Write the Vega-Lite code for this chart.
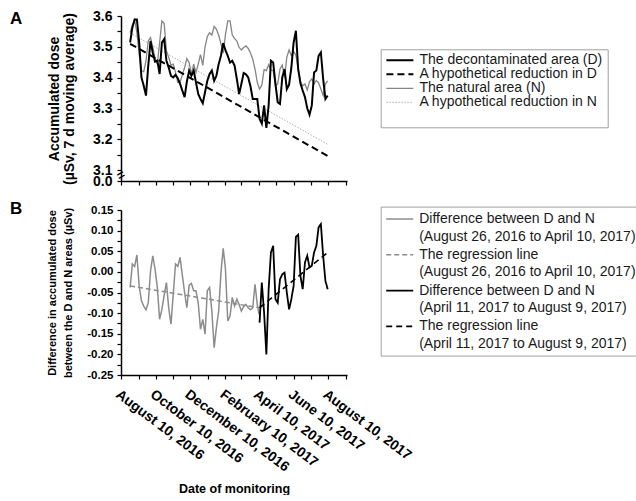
{
  "$schema": "https://vega.github.io/schema/vega-lite/v6.json",
  "padding": {"left": 10, "top": 9, "right": 0, "bottom": 0},
  "config": {
    "font": "Liberation Sans",
    "view": {"stroke": null},
    "axis": {"grid": false, "domainColor": "#000000", "domainWidth": 1.5, "tickColor": "#000000", "tickWidth": 1.2, "tickSize": 4, "labelColor": "#000000", "titleColor": "#000000", "labelFont": "Liberation Sans", "titleFont": "Liberation Sans", "labelFontWeight": "bold", "titleFontWeight": "bold", "labelFlush": false, "labelOverlap": false},
    "legend": {"strokeColor": "#a0a0a0", "fillColor": "#ffffff", "labelFontSize": 14, "labelFont": "Liberation Sans", "labelColor": "#1a1a1a", "labelLimit": 400, "symbolType": "stroke", "symbolSize": 729, "labelOffset": 5},
    "style": {"guide-label": {"lineHeight": 17.7}}
  },
  "datasets": {
    "a": [
      {"date": "2016-08-26", "D": 3.514, "N": 3.546, "Dhyp": 3.51, "Nhyp": 3.545},
      {"date": "2016-08-30", "D": 3.562, "N": 3.571},
      {"date": "2016-09-03", "D": 3.589, "N": 3.587},
      {"date": "2016-09-07", "D": 3.589, "N": 3.546},
      {"date": "2016-09-11", "D": 3.514, "N": 3.476},
      {"date": "2016-09-15", "D": 3.401, "N": 3.423},
      {"date": "2016-09-19", "D": 3.374, "N": 3.419},
      {"date": "2016-09-23", "D": 3.342, "N": 3.455},
      {"date": "2016-09-27", "D": 3.439, "N": 3.519},
      {"date": "2016-10-01", "D": 3.519, "N": 3.530},
      {"date": "2016-10-05", "D": 3.480, "N": 3.498},
      {"date": "2016-10-09", "D": 3.452, "N": 3.462},
      {"date": "2016-10-13", "D": 3.455, "N": 3.444},
      {"date": "2016-10-17", "D": 3.412, "N": 3.514},
      {"date": "2016-10-21", "D": 3.514, "N": 3.584},
      {"date": "2016-10-25", "D": 3.525, "N": 3.576},
      {"date": "2016-10-29", "D": 3.455, "N": 3.487},
      {"date": "2016-11-02", "D": 3.433, "N": 3.466},
      {"date": "2016-11-06", "D": 3.406, "N": 3.441},
      {"date": "2016-11-10", "D": 3.401, "N": 3.444},
      {"date": "2016-11-14", "D": 3.409, "N": 3.417},
      {"date": "2016-11-18", "D": 3.398, "N": 3.385},
      {"date": "2016-11-22", "D": 3.380, "N": 3.385},
      {"date": "2016-11-26", "D": 3.358, "N": 3.409},
      {"date": "2016-11-30", "D": 3.337, "N": 3.433},
      {"date": "2016-12-04", "D": 3.387, "N": 3.462},
      {"date": "2016-12-08", "D": 3.423, "N": 3.449},
      {"date": "2016-12-12", "D": 3.406, "N": 3.412},
      {"date": "2016-12-16", "D": 3.423, "N": 3.444},
      {"date": "2016-12-20", "D": 3.385, "N": 3.417},
      {"date": "2016-12-24", "D": 3.347, "N": 3.444},
      {"date": "2016-12-28", "D": 3.331, "N": 3.475},
      {"date": "2017-01-01", "D": 3.317, "N": 3.440},
      {"date": "2017-01-05", "D": 3.353, "N": 3.500},
      {"date": "2017-01-09", "D": 3.390, "N": 3.533},
      {"date": "2017-01-13", "D": 3.412, "N": 3.546},
      {"date": "2017-01-17", "D": 3.423, "N": 3.538},
      {"date": "2017-01-21", "D": 3.390, "N": 3.566},
      {"date": "2017-01-25", "D": 3.406, "N": 3.557},
      {"date": "2017-01-29", "D": 3.444, "N": 3.538},
      {"date": "2017-02-02", "D": 3.471, "N": 3.510},
      {"date": "2017-02-06", "D": 3.512, "N": 3.480},
      {"date": "2017-02-10", "D": 3.489, "N": 3.540},
      {"date": "2017-02-14", "D": 3.471, "N": 3.584},
      {"date": "2017-02-18", "D": 3.449, "N": 3.584},
      {"date": "2017-02-22", "D": 3.455, "N": 3.538},
      {"date": "2017-02-26", "D": 3.439, "N": 3.527},
      {"date": "2017-03-02", "D": 3.396, "N": 3.519},
      {"date": "2017-03-06", "D": 3.347, "N": 3.498},
      {"date": "2017-03-10", "D": 3.380, "N": 3.490},
      {"date": "2017-03-14", "D": 3.415, "N": 3.498},
      {"date": "2017-03-18", "D": 3.411, "N": 3.503},
      {"date": "2017-03-22", "D": 3.401, "N": 3.495},
      {"date": "2017-03-26", "D": 3.372, "N": 3.480},
      {"date": "2017-03-30", "D": 3.331, "N": 3.460},
      {"date": "2017-04-03", "D": 3.331, "N": 3.428},
      {"date": "2017-04-07", "D": 3.331, "N": 3.385},
      {"date": "2017-04-11", "D": 3.267, "N": 3.363},
      {"date": "2017-04-15", "D": 3.251, "N": 3.376},
      {"date": "2017-04-19", "D": 3.310, "N": 3.426},
      {"date": "2017-04-23", "D": 3.237, "N": 3.423},
      {"date": "2017-04-27", "D": 3.310, "N": 3.442},
      {"date": "2017-05-01", "D": 3.455, "N": 3.425},
      {"date": "2017-05-05", "D": 3.449, "N": 3.423},
      {"date": "2017-05-09", "D": 3.380, "N": 3.374},
      {"date": "2017-05-13", "D": 3.320, "N": 3.380},
      {"date": "2017-05-17", "D": 3.315, "N": 3.428},
      {"date": "2017-05-21", "D": 3.401, "N": 3.441},
      {"date": "2017-05-25", "D": 3.428, "N": 3.401},
      {"date": "2017-05-29", "D": 3.363, "N": 3.466},
      {"date": "2017-06-02", "D": 3.377, "N": 3.490},
      {"date": "2017-06-06", "D": 3.433, "N": 3.471},
      {"date": "2017-06-10", "D": 3.514, "N": 3.485},
      {"date": "2017-06-14", "D": 3.552, "N": 3.473},
      {"date": "2017-06-18", "D": 3.428, "N": 3.428},
      {"date": "2017-06-22", "D": 3.382, "N": 3.387},
      {"date": "2017-06-26", "D": 3.358, "N": 3.374},
      {"date": "2017-06-30", "D": 3.337, "N": 3.380},
      {"date": "2017-07-04", "D": 3.301, "N": 3.360},
      {"date": "2017-07-08", "D": 3.280, "N": 3.387},
      {"date": "2017-07-12", "D": 3.310, "N": 3.396},
      {"date": "2017-07-16", "D": 3.417, "N": 3.380},
      {"date": "2017-07-20", "D": 3.423, "N": 3.391},
      {"date": "2017-07-24", "D": 3.471, "N": 3.383},
      {"date": "2017-07-28", "D": 3.482, "N": 3.363},
      {"date": "2017-08-01", "D": 3.396, "N": 3.342},
      {"date": "2017-08-05", "D": 3.331, "N": 3.380},
      {"date": "2017-08-09", "D": 3.342, "N": 3.390, "Dhyp": 3.146, "Nhyp": 3.184}
    ],
    "b": [
      {"date": "2016-08-26", "G": -0.038, "Greg": -0.034},
      {"date": "2016-08-30", "G": 0.019},
      {"date": "2016-09-03", "G": 0.013},
      {"date": "2016-09-07", "G": 0.041},
      {"date": "2016-09-11", "G": -0.034},
      {"date": "2016-09-15", "G": -0.070},
      {"date": "2016-09-19", "G": -0.083},
      {"date": "2016-09-23", "G": -0.092},
      {"date": "2016-09-27", "G": -0.075},
      {"date": "2016-10-01", "G": 0.002},
      {"date": "2016-10-05", "G": 0.039},
      {"date": "2016-10-09", "G": 0.006},
      {"date": "2016-10-13", "G": -0.038},
      {"date": "2016-10-17", "G": -0.115},
      {"date": "2016-10-21", "G": -0.091},
      {"date": "2016-10-25", "G": -0.057},
      {"date": "2016-10-29", "G": -0.026},
      {"date": "2016-11-02", "G": -0.087},
      {"date": "2016-11-06", "G": -0.127},
      {"date": "2016-11-10", "G": -0.054},
      {"date": "2016-11-14", "G": 0.019},
      {"date": "2016-11-18", "G": 0.013},
      {"date": "2016-11-22", "G": 0.035},
      {"date": "2016-11-26", "G": -0.008},
      {"date": "2016-11-30", "G": -0.050},
      {"date": "2016-12-04", "G": -0.087},
      {"date": "2016-12-08", "G": -0.032},
      {"date": "2016-12-12", "G": -0.028},
      {"date": "2016-12-16", "G": -0.046},
      {"date": "2016-12-20", "G": -0.046},
      {"date": "2016-12-24", "G": -0.075},
      {"date": "2016-12-28", "G": -0.139},
      {"date": "2017-01-01", "G": -0.115},
      {"date": "2017-01-05", "G": -0.151},
      {"date": "2017-01-09", "G": -0.046},
      {"date": "2017-01-13", "G": -0.038},
      {"date": "2017-01-17", "G": -0.095},
      {"date": "2017-01-21", "G": -0.184},
      {"date": "2017-01-25", "G": -0.135},
      {"date": "2017-01-29", "G": -0.095},
      {"date": "2017-02-02", "G": -0.002},
      {"date": "2017-02-06", "G": 0.057},
      {"date": "2017-02-10", "G": 0.006},
      {"date": "2017-02-14", "G": -0.119},
      {"date": "2017-02-18", "G": -0.107},
      {"date": "2017-02-22", "G": -0.062},
      {"date": "2017-02-26", "G": -0.083},
      {"date": "2017-03-02", "G": -0.066},
      {"date": "2017-03-06", "G": -0.079},
      {"date": "2017-03-10", "G": -0.095},
      {"date": "2017-03-14", "G": -0.084},
      {"date": "2017-03-18", "G": -0.079},
      {"date": "2017-03-22", "G": -0.087},
      {"date": "2017-03-26", "G": -0.092},
      {"date": "2017-03-30", "G": -0.087},
      {"date": "2017-04-03", "G": -0.030},
      {"date": "2017-04-07", "G": -0.079},
      {"date": "2017-04-10", "G": -0.103, "Greg": -0.087},
      {"date": "2017-04-11", "K": -0.123, "Kreg": -0.087},
      {"date": "2017-04-15", "K": -0.026},
      {"date": "2017-04-19", "K": -0.099},
      {"date": "2017-04-23", "K": -0.200},
      {"date": "2017-04-27", "K": -0.042},
      {"date": "2017-05-01", "K": 0.047},
      {"date": "2017-05-05", "K": 0.063},
      {"date": "2017-05-09", "K": -0.066},
      {"date": "2017-05-13", "K": -0.075},
      {"date": "2017-05-17", "K": -0.018},
      {"date": "2017-05-21", "K": -0.006},
      {"date": "2017-05-25", "K": -0.002},
      {"date": "2017-05-29", "K": -0.050},
      {"date": "2017-06-02", "K": -0.091},
      {"date": "2017-06-06", "K": -0.066},
      {"date": "2017-06-10", "K": -0.034},
      {"date": "2017-06-14", "K": 0.085},
      {"date": "2017-06-18", "K": 0.090},
      {"date": "2017-06-22", "K": -0.010},
      {"date": "2017-06-26", "K": -0.042},
      {"date": "2017-06-30", "K": 0.023},
      {"date": "2017-07-04", "K": 0.039},
      {"date": "2017-07-08", "K": 0.011},
      {"date": "2017-07-12", "K": 0.015},
      {"date": "2017-07-16", "K": 0.047},
      {"date": "2017-07-20", "K": 0.063},
      {"date": "2017-07-24", "K": 0.108},
      {"date": "2017-07-28", "K": 0.116},
      {"date": "2017-08-01", "K": 0.039},
      {"date": "2017-08-05", "K": -0.022},
      {"date": "2017-08-09", "K": -0.042, "Kreg": 0.047}
    ]
  },
  "vconcat": [
    {
      "width": 226,
      "height": 165,
      "title": {"text": "A", "anchor": "start", "frame": "group", "dx": -111, "dy": 19, "offset": 0, "fontSize": 17, "fontWeight": "bold", "font": "Liberation Sans", "color": "#000000"},
      "encoding": {
        "x": {
          "field": "date", "type": "temporal",
          "scale": {"type": "utc", "domain": [{"year": 2016, "month": 8, "date": 10, "utc": true}, {"year": 2017, "month": 9, "date": 12, "utc": true}]},
          "axis": {
            "values": [
              {"year": 2016, "month": 8, "date": 10, "utc": true}, {"year": 2016, "month": 9, "date": 10, "utc": true},
              {"year": 2016, "month": 10, "date": 10, "utc": true}, {"year": 2016, "month": 11, "date": 10, "utc": true},
              {"year": 2016, "month": 12, "date": 10, "utc": true}, {"year": 2017, "month": 1, "date": 10, "utc": true},
              {"year": 2017, "month": 2, "date": 10, "utc": true}, {"year": 2017, "month": 3, "date": 10, "utc": true},
              {"year": 2017, "month": 4, "date": 10, "utc": true}, {"year": 2017, "month": 5, "date": 10, "utc": true},
              {"year": 2017, "month": 6, "date": 10, "utc": true}, {"year": 2017, "month": 7, "date": 10, "utc": true},
              {"year": 2017, "month": 8, "date": 10, "utc": true}, {"year": 2017, "month": 9, "date": 10, "utc": true}
            ],
            "labels": false, "title": null
          }
        },
        "y": {
          "field": "value", "type": "quantitative",
          "scale": {"domain": [3.065, 3.6], "nice": false, "zero": false},
          "axis": {
            "values": [3.065, 3.1, 3.15, 3.2, 3.25, 3.3, 3.35, 3.4, 3.45, 3.5, 3.55, 3.6],
            "labelExpr": "datum.value < 3.08 ? '0.0' : (abs(datum.value * 10 - round(datum.value * 10)) < 0.01 ? format(datum.value, '.1f') : '')",
            "labelOverlap": false,
            "labelFontSize": 14, "labelPadding": 5,
            "title": ["Accumulated dose", "(µSv, 7 d moving average)"],
            "titleFontSize": 14, "titleLineHeight": 15, "titlePadding": 16
          }
        }
      },
      "layer": [
        {
          "data": {"name": "a"},
          "transform": [{"fold": ["N", "Nhyp", "Dhyp", "D"], "as": ["key", "value"]}],
          "mark": {"type": "line", "invalid": "filter"},
          "encoding": {
            "color": {
              "field": "key", "type": "nominal",
              "scale": {"domain": ["D", "Dhyp", "N", "Nhyp"], "range": ["#000000", "#000000", "#858585", "#9a9a9a"]},
              "legend": {"orient": "none", "legendX": 259.7, "legendY": 33.3, "padding": 4.7, "clipHeight": 12.6, "rowPadding": -1.4, "title": " ", "titleOrient": "bottom", "titleFontSize": 11, "titlePadding": 2.1, "labelExpr": "datum.value == 'D' ? 'The decontaminated area (D)' : datum.value == 'Dhyp' ? 'A hypothetical reduction in D' : datum.value == 'N' ? 'The natural area (N)' : 'A hypothetical reduction in N'"}
            },
            "strokeDash": {
              "field": "key", "type": "nominal",
              "scale": {"domain": ["D", "Dhyp", "N", "Nhyp"], "range": [[1, 0], [7, 4], [1, 0], [1.5, 1.5]]},
              "legend": {"orient": "none", "legendX": 259.7, "legendY": 33.3, "padding": 4.7, "clipHeight": 12.6, "rowPadding": -1.4, "title": " ", "titleOrient": "bottom", "titleFontSize": 11, "titlePadding": 2.1, "labelExpr": "datum.value == 'D' ? 'The decontaminated area (D)' : datum.value == 'Dhyp' ? 'A hypothetical reduction in D' : datum.value == 'N' ? 'The natural area (N)' : 'A hypothetical reduction in N'"}
            },
            "strokeWidth": {
              "field": "key", "type": "nominal",
              "scale": {"type": "ordinal", "domain": ["D", "Dhyp", "N", "Nhyp"], "range": [2, 2, 1.3, 0.8]},
              "legend": {"orient": "none", "legendX": 259.7, "legendY": 33.3, "padding": 4.7, "clipHeight": 12.6, "rowPadding": -1.4, "title": " ", "titleOrient": "bottom", "titleFontSize": 11, "titlePadding": 2.1, "labelExpr": "datum.value == 'D' ? 'The decontaminated area (D)' : datum.value == 'Dhyp' ? 'A hypothetical reduction in D' : datum.value == 'N' ? 'The natural area (N)' : 'A hypothetical reduction in N'"}
            }
          }
        },
        {
          "data": {"values": [{"date": "2016-08-10", "value": 3.083}]},
          "mark": {"type": "text", "text": "=", "angle": -30, "fontSize": 13, "fontWeight": "bold", "color": "#000000"}
        }
      ]
    },
    {
      "width": 226,
      "height": 165,
      "title": {"text": "B", "anchor": "start", "frame": "group", "dx": -111, "dy": 14, "offset": 0, "fontSize": 17, "fontWeight": "bold", "font": "Liberation Sans", "color": "#000000"},
      "data": {"name": "b"},
      "transform": [{"fold": ["G", "Greg", "Kreg", "K"], "as": ["key", "value"]}],
      "mark": {"type": "line", "invalid": "filter"},
      "encoding": {
        "x": {
          "field": "date", "type": "temporal",
          "scale": {"type": "utc", "domain": [{"year": 2016, "month": 8, "date": 10, "utc": true}, {"year": 2017, "month": 9, "date": 12, "utc": true}]},
          "axis": {
            "values": [
              {"year": 2016, "month": 8, "date": 10, "utc": true}, {"year": 2016, "month": 9, "date": 10, "utc": true},
              {"year": 2016, "month": 10, "date": 10, "utc": true}, {"year": 2016, "month": 11, "date": 10, "utc": true},
              {"year": 2016, "month": 12, "date": 10, "utc": true}, {"year": 2017, "month": 1, "date": 10, "utc": true},
              {"year": 2017, "month": 2, "date": 10, "utc": true}, {"year": 2017, "month": 3, "date": 10, "utc": true},
              {"year": 2017, "month": 4, "date": 10, "utc": true}, {"year": 2017, "month": 5, "date": 10, "utc": true},
              {"year": 2017, "month": 6, "date": 10, "utc": true}, {"year": 2017, "month": 7, "date": 10, "utc": true},
              {"year": 2017, "month": 8, "date": 10, "utc": true}, {"year": 2017, "month": 9, "date": 10, "utc": true}
            ],
            "labelExpr": "utcmonth(datum.value) % 2 == 1 ? utcFormat(datum.value, '%B %-d, %Y') : ''",
            "labelOverlap": false,
            "labelAngle": 37, "labelAlign": "left", "labelBaseline": "top", "labelFontSize": 14, "labelPadding": 8,
            "title": "Date of monitoring", "titleFontSize": 12.5, "titlePadding": 8
          }
        },
        "y": {
          "field": "value", "type": "quantitative",
          "scale": {"domain": [-0.25, 0.15], "nice": false, "zero": false},
          "axis": {
            "values": [-0.25, -0.225, -0.2, -0.175, -0.15, -0.125, -0.1, -0.075, -0.05, -0.025, 0, 0.025, 0.05, 0.075, 0.1, 0.125, 0.15],
            "labelExpr": "round(abs(datum.value) * 1000) % 50 == 0 ? replace(format(datum.value, '.2f'), '\u2212', '-') : ''",
            "labelOverlap": false,
            "labelFontSize": 11.5, "labelPadding": 4,
            "title": ["Difference in accumulated dose", "between the D and N areas (µSv)"],
            "titleFontSize": 11, "titleLineHeight": 16.5, "titlePadding": 13
          }
        },
        "color": {
          "field": "key", "type": "nominal",
          "scale": {"domain": ["G", "Greg", "K", "Kreg"], "range": ["#8c8c8c", "#8c8c8c", "#000000", "#000000"]},
          "legend": {"orient": "none", "legendX": 259.7, "legendY": -3.4, "padding": 4.5, "clipHeight": 15.8, "rowPadding": 2.8, "labelBaseline": "middle", "title": null, "labelExpr": "datum.value == 'G' ? ['Difference between D and N', '(August 26, 2016 to April 10, 2017)'] : datum.value == 'Greg' ? ['The regression line', '(August 26, 2016 to April 10, 2017)'] : datum.value == 'K' ? ['Difference between D and N', '(April 11, 2017 to August 9, 2017)'] : ['The regression line', '(April 11, 2017 to August 9, 2017)']"}
        },
        "strokeDash": {
          "field": "key", "type": "nominal",
          "scale": {"domain": ["G", "Greg", "K", "Kreg"], "range": [[1, 0], [5, 3], [1, 0], [6, 4]]},
          "legend": {"orient": "none", "legendX": 259.7, "legendY": -3.4, "padding": 4.5, "clipHeight": 15.8, "rowPadding": 2.8, "labelBaseline": "middle", "title": null, "labelExpr": "datum.value == 'G' ? ['Difference between D and N', '(August 26, 2016 to April 10, 2017)'] : datum.value == 'Greg' ? ['The regression line', '(August 26, 2016 to April 10, 2017)'] : datum.value == 'K' ? ['Difference between D and N', '(April 11, 2017 to August 9, 2017)'] : ['The regression line', '(April 11, 2017 to August 9, 2017)']"}
        },
        "strokeWidth": {
          "field": "key", "type": "nominal",
          "scale": {"type": "ordinal", "domain": ["G", "Greg", "K", "Kreg"], "range": [1.5, 1.5, 1.8, 1.6]},
          "legend": {"orient": "none", "legendX": 259.7, "legendY": -3.4, "padding": 4.5, "clipHeight": 15.8, "rowPadding": 2.8, "labelBaseline": "middle", "title": null, "labelExpr": "datum.value == 'G' ? ['Difference between D and N', '(August 26, 2016 to April 10, 2017)'] : datum.value == 'Greg' ? ['The regression line', '(August 26, 2016 to April 10, 2017)'] : datum.value == 'K' ? ['Difference between D and N', '(April 11, 2017 to August 9, 2017)'] : ['The regression line', '(April 11, 2017 to August 9, 2017)']"}
        }
      }
    }
  ],
  "spacing": 12,
  "resolve": {
    "scale": {"x": "independent", "y": "independent", "color": "independent", "strokeDash": "independent", "strokeWidth": "independent"},
    "legend": {"color": "independent", "strokeDash": "independent", "strokeWidth": "independent"}
  }
}
